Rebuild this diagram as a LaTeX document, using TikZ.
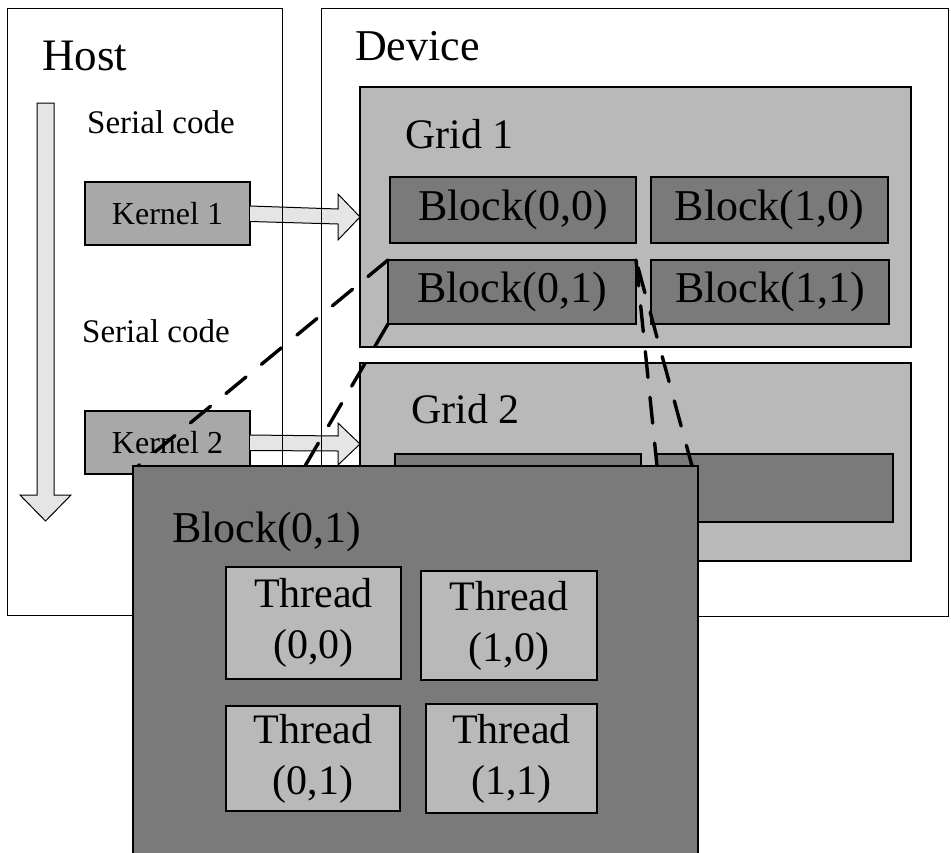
\documentclass[tikz,border=0pt]{standalone}
\usepackage{fontspec}
\setmainfont{Liberation Serif}
\usetikzlibrary{calc}
\definecolor{lightg}{gray}{0.725}
\definecolor{darkg}{gray}{0.48}
\definecolor{kerng}{gray}{0.66}
\definecolor{arrg}{gray}{0.90}
\begin{document}
\begin{tikzpicture}[x=1pt,y=-1pt,
  frame/.style={draw=black, line width=1.2pt},
  boxbase/.style={draw=black, line width=1.3pt, inner sep=0pt, outer sep=0pt, anchor=north west},
  kernelbox/.style={boxbase, fill=kerng, font=\fontsize{32}{36}\selectfont},
  gridbox/.style={boxbase, fill=lightg},
  blockbox/.style={boxbase, fill=darkg, font=\fontsize{44}{48}\selectfont},
  threadbox/.style={boxbase, fill=lightg, align=center, font=\fontsize{42}{51}\selectfont},
  fatarrow/.style={draw=black, line width=1pt, fill=arrg, line join=miter},
  dashline/.style={draw=black, line width=3.4pt, line cap=round, dash pattern=on 26pt off 20pt},
  lbl/.style={anchor=base west, inner sep=0pt}
]
\useasboundingbox (0,0) rectangle (951,852);

% vertical time arrow
\coordinate (vtip) at (45.5,521);
\draw[fatarrow] (37,103) -- (54,103) -- (54,495) -- (71,495) -- (vtip) -- (20,495) -- (37,495) -- cycle;

% kernel boxes
\node[kernelbox, minimum width=165pt, minimum height=63pt] (k1) at (85,182) {Kernel 1};
\node[kernelbox, minimum width=165pt, minimum height=63pt] (k2) at (85,411) {Kernel 2};

% launch arrows
\coordinate (t1) at (360,217);
\coordinate (t2) at (360,444);
\draw[fatarrow] ($(k1.east)+(0,-7.5)$) -- ($(t1)+(-22,-8)$) -- ($(t1)+(-22,-23)$) -- (t1)
  -- ($(t1)+(-22,23)$) -- ($(t1)+(-22,7)$) -- ($(k1.east)+(0,8)$);
\draw[fatarrow] ($(k2.east)+(0,-7.5)$) -- ($(t2)+(-22,-8)$) -- ($(t2)+(-22,-21)$) -- (t2)
  -- ($(t2)+(-22,21)$) -- ($(t2)+(-22,7)$) -- ($(k2.east)+(0,8)$);

% host and device frames
\node[frame, inner sep=0pt, anchor=north west, minimum width=275pt, minimum height=607pt] (host) at (7,8) {};
\node[frame, inner sep=0pt, anchor=north west, minimum width=627pt, minimum height=608pt] (dev) at (321,8) {};
\node[lbl, font=\fontsize{45}{50}\selectfont] (hostl) at (42,70) {Host};
\node[lbl, font=\fontsize{44}{50}\selectfont] (devl) at (355,60) {Device};
\node[lbl, font=\fontsize{33}{38}\selectfont] (s1) at (87,133) {Serial code};
\node[lbl, font=\fontsize{33}{38}\selectfont] (s2) at (82,342) {Serial code};

% grid 1
\node[gridbox, minimum width=551pt, minimum height=260pt] (g1) at (360,87) {};
\node[lbl, font=\fontsize{42}{46}\selectfont] (g1l) at (405,148) {Grid 1};
\node[blockbox, minimum width=246pt, minimum height=66pt] (b00) at (390,177) {Block(0,0)};
\node[blockbox, minimum width=237pt, minimum height=66pt] (b10) at (651,177) {Block(1,0)};
\node[blockbox, minimum width=248pt, minimum height=64pt] (b01) at (388,260) {Block(0,1)};
\node[blockbox, minimum width=238pt, minimum height=64pt] (b11) at (651,260) {Block(1,1)};

% grid 2
\node[gridbox, minimum width=551pt, minimum height=198pt] (g2) at (360,363) {};
\node[lbl, font=\fontsize{42}{46}\selectfont] (g2l) at (411,423) {Grid 2};
\node[blockbox, minimum width=246pt, minimum height=68pt] (c00) at (395,454) {};
\node[blockbox, minimum width=236pt, minimum height=68pt] (c10) at (657,454) {};

% zoom lines
\coordinate (e1) at (138,466);
\coordinate (e2) at (305,466);
\coordinate (e3) at (657,466);
\coordinate (e4) at (692,466);
\draw[dashline] (b01.north west) -- (e1);
\draw[dashline] (b01.south west) -- (e2);
\draw[dashline] (b01.north east) -- (e3);
\draw[dashline, dash phase=38pt] (b01.north east) -- (e4);

% enlarged block
\node[boxbase, fill=darkg, minimum width=565pt, minimum height=400pt] (big) at (133,466) {};
\node[lbl, font=\fontsize{44}{48}\selectfont] (bigl) at (172,542) {Block(0,1)};
\node[threadbox, minimum width=175pt, minimum height=112pt] (t00) at (226,567) {Thread\\(0,0)};
\node[threadbox, minimum width=176pt, minimum height=109pt] (t10) at (421,571) {Thread\\(1,0)};
\node[threadbox, minimum width=174pt, minimum height=105pt] (t01) at (226,706) {Thread\\(0,1)};
\node[threadbox, minimum width=171pt, minimum height=109pt] (t11) at (426,704) {Thread\\(1,1)};
\end{tikzpicture}
\end{document}
